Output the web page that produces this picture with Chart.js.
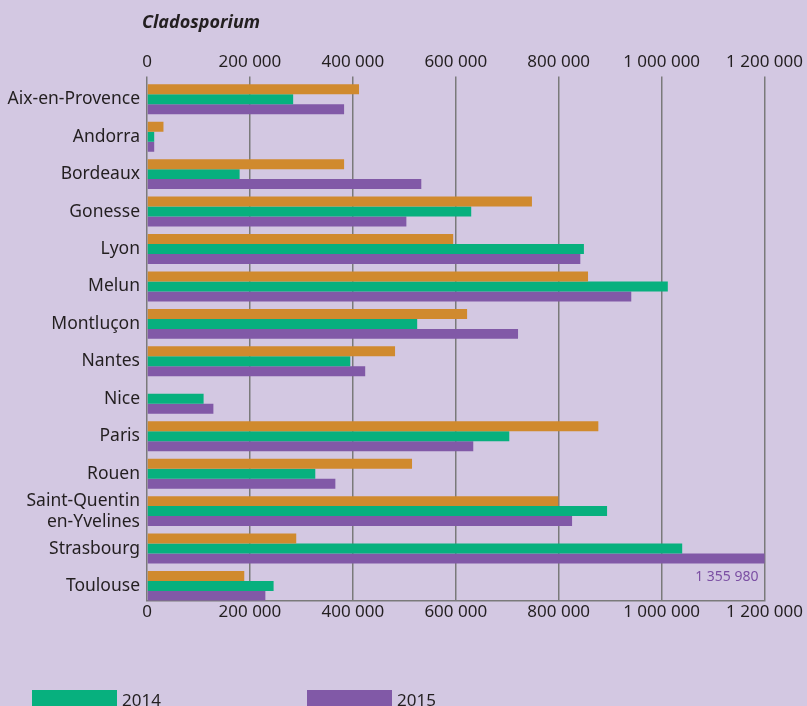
<!DOCTYPE html>
<html>
<head>
<meta charset="utf-8">
<script src="https://cdn.jsdelivr.net/npm/chart.js@4.4.0/dist/chart.umd.min.js"></script>
<style>
  html, body { margin: 0; padding: 0; background: #d3c8e2; overflow: hidden; }
  #wrap { position: relative; width: 807px; height: 706px; }
  #title { position: absolute; left: 142px; top: 9px; font: italic bold 18px "Open Sans", sans-serif; color: #231f20; }
  .leg { position: absolute; top: 688px; font: 17px "Noto Sans", sans-serif; color: #231f20; }
  .leg span { display: inline-block; width: 85px; height: 16px; vertical-align: top; margin-right: 5px; margin-top: 2px; }
</style>
</head>
<body>
<div id="wrap">
  <canvas id="graphCanvas" width="807" height="706"></canvas>
  <div id="title">Cladosporium</div>
  <div class="leg" style="left:32px"><span style="background:#07b07e"></span>2014</div>
  <div class="leg" style="left:307px"><span style="background:#8159a7"></span>2015</div>
</div>
<script>
var cities = ['Aix-en-Provence', 'Andorra', 'Bordeaux', 'Gonesse', 'Lyon', 'Melun', 'Montluçon',
  'Nantes', 'Nice', 'Paris', 'Rouen', ['Saint-Quentin', 'en-Yvelines'], 'Strasbourg', 'Toulouse'];
var values2013 = [412000, 32000, 383000, 748000, 595000, 857000, 622000, 482000, 0, 877000, 515000, 799000, 290000, 189000];
var values2014 = [284000, 14000, 180000, 630000, 849000, 1012000, 525000, 395000, 110000, 704000, 327000, 894000, 1040000, 246000];
var values2015 = [383000, 14000, 533000, 504000, 842000, 941000, 721000, 424000, 129000, 634000, 366000, 826000, 1355980, 230000];
var xTicks = [0, 200000, 400000, 600000, 800000, 1000000, 1200000];

function fmt(v) {
    return String(v).replace(/\B(?=(\d{3})+(?!\d))/g, ' ');
}

// label for the bar cut off by the axis
var overflowLabel = {
    id: 'overflowLabel',
    afterDatasetsDraw: function (chart) {
        var ctx = chart.ctx;
        var x = chart.scales.x;
        var y = chart.scales.y;
        var max = xTicks[xTicks.length - 1];
        for (var i in values2015) {
            if (values2015[i] > max) {
                ctx.save();
                ctx.fillStyle = '#7b4fa3';
                ctx.font = '14px "Noto Sans", sans-serif';
                ctx.textAlign = 'right';
                ctx.textBaseline = 'middle';
                ctx.fillText(fmt(values2015[i]), x.getPixelForValue(max) - 6, y.getPixelForValue(Number(i) + 1) - 9);
                ctx.restore();
            }
        }
    }
};

var axisFont = { family: '"Noto Sans", sans-serif', size: 17 };

var chartdata = {
    labels: cities,
    datasets: [
        { label: '2013', backgroundColor: '#d08a2e', data: values2013 },
        { label: '2014', backgroundColor: '#07b07e', data: values2014 },
        { label: '2015', backgroundColor: '#8159a7', data: values2015 }
    ]
};

new Chart(document.getElementById('graphCanvas'), {
    type: 'bar',
    data: chartdata,
    plugins: [overflowLabel],
    options: {
        indexAxis: 'y',
        responsive: false,
        animation: false,
        layout: { padding: { top: 48, right: 40, bottom: 83, left: 0 } },
        datasets: { bar: { categoryPercentage: 0.8, barPercentage: 1.0 } },
        plugins: { legend: { display: false }, tooltip: { enabled: false } },
        scales: {
            x: {
                min: 0, max: 1200000,
                afterBuildTicks: function (s) { s.ticks = xTicks.map(function (v) { return { value: v }; }); },
                ticks: { font: axisFont, color: '#231f20', padding: 1, maxRotation: 0, callback: function (v) { return fmt(v); } },
                grid: { color: '#7a7a7a', lineWidth: 1.5, drawTicks: false },
                border: { display: true, color: '#7a7a7a', width: 1.5 }
            },
            x2: {
                position: 'top',
                min: 0, max: 1200000,
                afterBuildTicks: function (s) { s.ticks = xTicks.map(function (v) { return { value: v }; }); },
                ticks: { font: axisFont, color: '#231f20', padding: 4, maxRotation: 0, callback: function (v) { return fmt(v); } },
                grid: { display: false, drawTicks: false },
                border: { display: false }
            },
            y: {
                // last group sits right on the bottom axis in the original
                afterBuildTicks: function (s) { s._startValue = -0.61; s._valueRange = 14; },
                afterFit: function (s) { s.width = 147; },
                ticks: { font: { family: '"Noto Sans", sans-serif', size: 17.5 }, color: '#231f20', padding: 7, autoSkip: false },
                grid: { display: false, drawTicks: false },
                border: { display: false }
            }
        }
    }
});
</script>
</body>
</html>
